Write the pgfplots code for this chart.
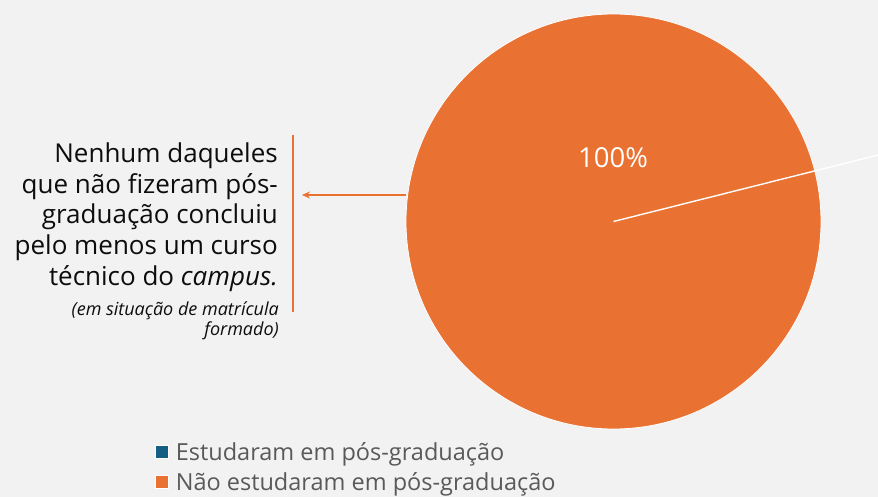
\documentclass[border=0pt]{standalone}
\usepackage{pgfplots}
\pgfplotsset{compat=1.18}
\usepackage{pgfplotstable}
\usepackage{fontspec}
\setmainfont{Open Sans}
\usetikzlibrary{arrows.meta}
\definecolor{bgc}{HTML}{F2F2F2}
\definecolor{pieorange}{HTML}{E97132}
\definecolor{pieblue}{HTML}{156082}
\definecolor{legtext}{HTML}{595959}
\definecolor{maintext}{HTML}{0D0D0D}
% category, value (percent)
\pgfplotstableread{
cat value
Estudaram 0
NaoEstudaram 100
}\piedata
\begin{document}
\begin{tikzpicture}
\begin{axis}[
  scale only axis, width=878pt, height=497pt,
  xmin=0, xmax=878, ymin=0, ymax=497, y dir=reverse,
  axis lines=none, ticks=none,
  axis background/.style={fill=bgc},
  clip mode=individual,
  legend style={at={(axis cs:152,438)}, anchor=north west, draw=none, fill=none,
    font=\fontsize{23.5}{31}\selectfont\color{legtext}, row sep=6.5pt,
    /tikz/every odd column/.append style={column sep=5pt}},
  legend cell align=left,
  legend image code/.code={\fill[#1, draw=white, line width=0.6pt] (0pt,-6.5pt) rectangle (13pt,6.5pt);},
]
\addlegendimage{fill=pieblue}
\addlegendentry{Estudaram em pós-graduação}
% full pie (100%)
\addplot[only marks, mark=*, mark size=207.5pt, mark options={fill=pieorange, draw=white, line width=0.8pt}, forget plot] coordinates {(613.5,221.5)};
\addlegendimage{fill=pieorange}
\addlegendentry{Não estudaram em pós-graduação}
% boundary of the 0% slice and its leader line
\addplot[white, line width=1.4pt, forget plot] coordinates {(613.5,221.5) (878,155)};
\node[text=white, font=\fontsize{27.5}{30}\selectfont] at (axis cs:613,158) {100\%};
% annotation text
\begin{scope}[every node/.style={anchor=base east, text=maintext, inner sep=0pt, font=\fontsize{26}{30}\selectfont}]
\node at (axis cs:278,163) {Nenhum daqueles};
\node at (axis cs:278,193.5) {que não fizeram pós-};
\node at (axis cs:278,224) {graduação concluiu};
\node at (axis cs:278,254.5) {pelo menos um curso};
\node at (axis cs:278,285) {técnico do \textit{campus.}};
\end{scope}
\begin{scope}[every node/.style={anchor=base east, text=maintext, inner sep=0pt, font=\fontsize{18}{20}\selectfont\itshape}]
\node at (axis cs:279,315) {(em situação de matrícula};
\node at (axis cs:279,335) {formado)};
\end{scope}
\draw[pieorange, line width=2pt] (axis cs:292.5,135) -- (axis cs:292.5,312);
\draw[pieorange, line width=2pt, -{Stealth[length=8pt,width=7pt]}] (axis cs:406,195) -- (axis cs:302,195);
\end{axis}
\end{tikzpicture}
\end{document}
